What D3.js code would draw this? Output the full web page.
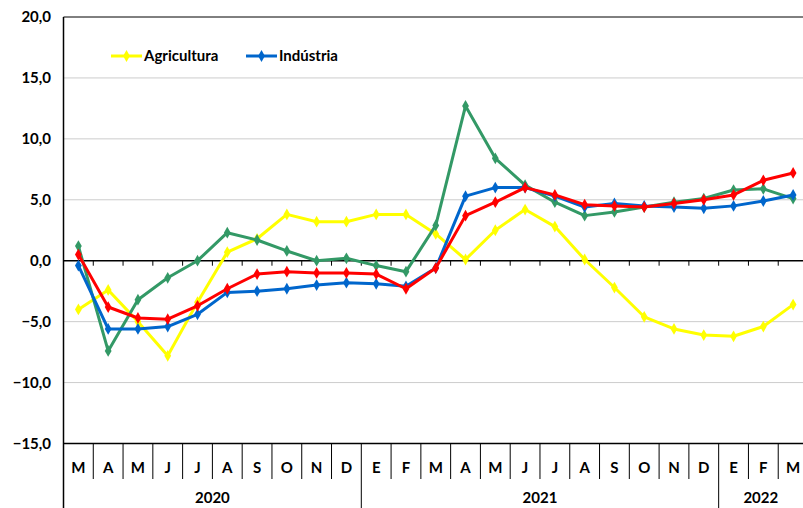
<!DOCTYPE html>
<html>
<head>
<meta charset="utf-8">
<script src="https://cdn.jsdelivr.net/npm/d3@7"></script>
<style>
  body { margin: 0; background: #fff; }
  svg text { font-family: Lato, "Open Sans", sans-serif; font-weight: bold; fill: #000; }
</style>
</head>
<body>
<svg id="chart" width="803" height="508"></svg>
<script>
// months (Mar 2020 .. Mar 2022)
var months = ["M","A","M","J","J","A","S","O","N","D",
              "E","F","M","A","M","J","J","A","S","O","N","D",
              "E","F","M"];
var years = [ { label: "2020", from: 0, to: 10 },
              { label: "2021", from: 10, to: 22 },
              { label: "2022", from: 22, to: 25 } ];
var yTicks = [-15, -10, -5, 0, 5, 10, 15, 20];

var agricultura = [-4.0, -2.4, -5.0, -7.8, -3.4, 0.7, 1.8, 3.8, 3.2, 3.2,
                   3.8, 3.8, 2.2, 0.1, 2.5, 4.2, 2.8, 0.1, -2.2, -4.6, -5.6, -6.1,
                   -6.2, -5.4, -3.6];
var industria = [-0.4, -5.6, -5.6, -5.4, -4.4, -2.6, -2.5, -2.3, -2.0, -1.8,
                 -1.9, -2.1, -0.6, 5.3, 6.0, 6.0, 5.3, 4.4, 4.7, 4.5, 4.4, 4.3,
                 4.5, 4.9, 5.4];
var verde = [1.2, -7.4, -3.2, -1.4, 0.0, 2.3, 1.7, 0.8, 0.0, 0.2,
             -0.4, -0.9, 2.9, 12.7, 8.4, 6.2, 4.8, 3.7, 4.0, 4.4, 4.8, 5.1,
             5.8, 5.9, 5.1];
var vermelho = [0.5, -3.8, -4.7, -4.8, -3.7, -2.3, -1.1, -0.9, -1.0, -1.0,
                -1.1, -2.3, -0.6, 3.7, 4.8, 6.0, 5.4, 4.6, 4.5, 4.4, 4.7, 5.0,
                5.4, 6.6, 7.2];

var series = [
  { name: "Agricultura", values: agricultura, color: "#ffff00" },
  { name: "Verde", values: verde, color: "#339966" },
  { name: "Indústria", values: industria, color: "#0066cc" },
  { name: "Vermelho", values: vermelho, color: "#ff0000" }
];

var svg = d3.select("#chart");
var plotLeft = 63.5, plotRight = 808, plotTop = 17, plotBottom = 443.5;

var x = d3.scaleBand().domain(d3.range(months.length)).range([plotLeft, plotRight]);
var y = d3.scaleLinear().domain([-15, 20]).range([plotBottom, plotTop]);
var cx = function(i) { return x(i) + x.bandwidth() / 2; };

// grid
svg.append("g").selectAll("line")
  .data(yTicks.filter(function(d) { return d !== 0 && d !== -15 && d !== 20; }))
  .enter().append("line")
  .attr("x1", plotLeft).attr("x2", plotRight)
  .attr("y1", function(d) { return y(d); }).attr("y2", function(d) { return y(d); })
  .attr("stroke", "#999").attr("stroke-dasharray", "1,1");

// borders
svg.append("line").attr("x1", plotLeft).attr("x2", plotRight).attr("y1", y(20)).attr("y2", y(20)).attr("stroke", "#000");
svg.append("line").attr("x1", plotLeft).attr("x2", plotRight).attr("y1", y(-15)).attr("y2", y(-15)).attr("stroke", "#000").attr("stroke-width", 1.5);
svg.append("line").attr("x1", plotLeft).attr("x2", plotLeft).attr("y1", y(20)).attr("y2", 508).attr("stroke", "#000").attr("stroke-width", 1.5);

// zero line with ticks
svg.append("line").attr("x1", plotLeft).attr("x2", plotRight).attr("y1", y(0)).attr("y2", y(0)).attr("stroke", "#000").attr("stroke-width", 1.5);
svg.append("g").selectAll("line")
  .data(d3.range(1, months.length))
  .enter().append("line")
  .attr("x1", function(i) { return x(i); }).attr("x2", function(i) { return x(i); })
  .attr("y1", y(0)).attr("y2", y(0) + 5)
  .attr("stroke", "#000");

// y labels
svg.append("g").selectAll("text")
  .data(yTicks).enter().append("text")
  .attr("x", 51).attr("y", function(d) { return y(d); })
  .attr("dy", "0.35em").attr("text-anchor", "end")
  .style("font-size", "15px")
  .text(function(d) { return d3.format(".1f")(d).replace(".", ","); });

// month separators and labels
svg.append("g").selectAll("line")
  .data(d3.range(1, months.length))
  .enter().append("line")
  .attr("x1", function(i) { return x(i); }).attr("x2", function(i) { return x(i); })
  .attr("y1", plotBottom)
  .attr("y2", function(i) { return (i === 10 || i === 22) ? 508 : 479; })
  .attr("stroke", "#000");
svg.append("g").selectAll("text")
  .data(months).enter().append("text")
  .attr("x", function(d, i) { return cx(i); }).attr("y", 468)
  .attr("dy", "0.35em").attr("text-anchor", "middle")
  .style("font-size", "15px")
  .text(function(d) { return d; });
svg.append("g").selectAll("text")
  .data(years).enter().append("text")
  .attr("x", function(d) { return (x(d.from) + Math.min(x(d.to - 1) + x.bandwidth(), 803)) / 2; })
  .attr("y", 498).attr("dy", "0.35em").attr("text-anchor", "middle")
  .style("font-size", "15px")
  .text(function(d) { return d.label; });

// series
var line = d3.line().x(function(d, i) { return cx(i); }).y(function(d) { return y(d); });
var diamond = d3.symbol().type(d3.symbolDiamond).size(40);
series.forEach(function(s) {
  var g = svg.append("g");
  g.append("path").datum(s.values)
    .attr("d", line).attr("fill", "none")
    .attr("stroke", s.color).attr("stroke-width", 3).attr("stroke-linejoin", "round");
  g.selectAll("path.pt").data(s.values).enter().append("path")
    .attr("class", "pt")
    .attr("d", diamond)
    .attr("transform", function(d, i) { return "translate(" + cx(i) + "," + y(d) + ")"; })
    .attr("fill", s.color);
});

// legend
var legend = [ { label: "Agricultura", color: "#ffff00", x: 111 },
               { label: "Indústria", color: "#0066cc", x: 246 } ];
var lg = svg.append("g").selectAll("g").data(legend).enter().append("g")
  .attr("transform", function(d) { return "translate(" + d.x + ",56)"; });
lg.append("line").attr("x1", 0).attr("x2", 31).attr("y1", 0).attr("y2", 0)
  .attr("stroke", function(d) { return d.color; }).attr("stroke-width", 3);
lg.append("path").attr("d", diamond).attr("transform", "translate(15.5,0)")
  .attr("fill", function(d) { return d.color; });
lg.append("text").attr("x", 33).attr("y", 0).attr("dy", "0.35em")
  .style("font-size", "15px").text(function(d) { return d.label; });
</script>
</body>
</html>
